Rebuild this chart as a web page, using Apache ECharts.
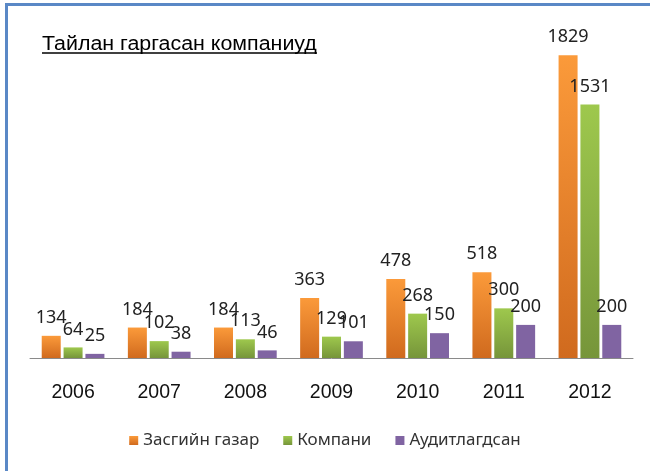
<!DOCTYPE html>
<html>
<head>
<meta charset="utf-8">
<script src="https://cdn.jsdelivr.net/npm/echarts@6/dist/echarts.min.js"></script>
<style>
  html, body { margin: 0; padding: 0; background: #fff; overflow: hidden; }
  #main { position: absolute; left: 0; top: 0; width: 650px; height: 471px; }
  #frame {
    position: absolute; left: 5px; top: 3px; width: 700px; height: 520px;
    border-left: 3px solid #5a88c6; border-top: 3px solid #5a88c6;
    pointer-events: none;
  }
</style>
</head>
<body>
<div id="main"></div>
<div id="frame"></div>
<script>
// года
const years = ["2006", "2007", "2008", "2009", "2010", "2011", "2012"];
// серии
const seriesNames = ["Засгийн газар", "Компани", "Аудитлагдсан"];
const government = [134, 184, 184, 363, 478, 518, 1829];
const companies = [64, 102, 113, 129, 268, 300, 1531];
const audited = [25, 38, 46, 101, 150, 200, 200];

const chartTitle = "Тайлан гаргасан компаниуд";

const myChart = echarts.init(document.getElementById("main"));

const grad = (top, bottom) =>
  new echarts.graphic.LinearGradient(0, 0, 0, 1, [
    { offset: 0, color: top },
    { offset: 1, color: bottom },
  ]);

const labelStyle = {
  show: true,
  position: "top",
  distance: 9,
  fontSize: 18,
  fontFamily: "Noto Sans",
  color: "#222",
};

const option = {
  animation: false,
  backgroundColor: "transparent",
  graphic: [
    {
      type: "text",
      x: 42,
      y: 34,
      scaleX: 1.07,
      style: {
        text: chartTitle,
        font: '20px "Liberation Sans"',
        fill: "#000",
        verticalAlign: "top",
      },
    },
    {
      type: "line",
      shape: { x1: 42, y1: 53, x2: 317, y2: 53 },
      style: { stroke: "#000", lineWidth: 1.5 },
    },
  ],
  legend: {
    bottom: 17,
    left: "center",
    itemWidth: 9,
    itemHeight: 9,
    itemGap: 24,
    icon: "rect",
    textStyle: { fontSize: 17, fontFamily: "Noto Sans", color: "#333" },
    data: seriesNames,
  },
  grid: {
    left: 30,
    right: 17,
    top: 27,
    bottom: 113,
  },
  xAxis: {
    type: "category",
    data: years,
    axisTick: { show: false },
    axisLine: { show: true, lineStyle: { color: "#8a8a8a", width: 1 } },
    axisLabel: {
      margin: 25,
      fontSize: 19.5,
      fontFamily: "Liberation Sans",
      color: "#111",
    },
  },
  yAxis: {
    type: "value",
    min: 0,
    max: 2000,
    show: false,
    splitLine: { show: false },
  },
  series: [
    {
      name: seriesNames[0],
      type: "bar",
      data: government,
      barWidth: 19,
      barGap: "15%",
      itemStyle: { color: grad("#fb9a3a", "#d06a1e") },
      label: labelStyle,
    },
    {
      name: seriesNames[1],
      type: "bar",
      data: companies,
      barWidth: 19,
      barGap: "15%",
      itemStyle: { color: grad("#9ec84d", "#76953a") },
      label: labelStyle,
    },
    {
      name: seriesNames[2],
      type: "bar",
      data: audited,
      barWidth: 19,
      barGap: "15%",
      itemStyle: { color: "#8064a2" },
      label: labelStyle,
    },
  ],
};

myChart.setOption(option);
window.addEventListener("resize", () => myChart.resize());
</script>
</body>
</html>
